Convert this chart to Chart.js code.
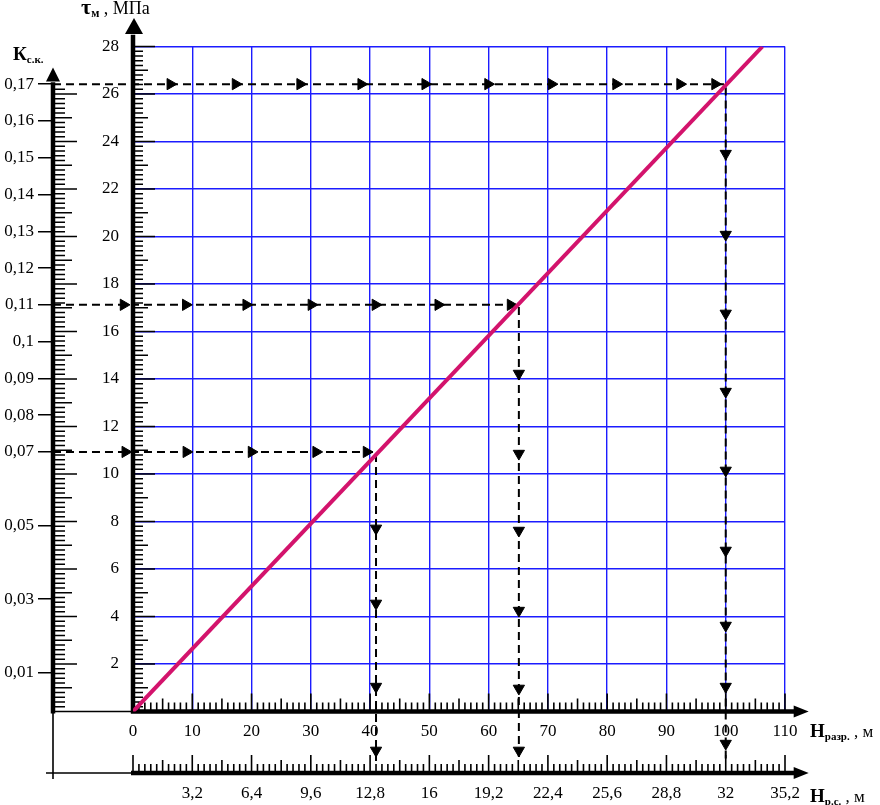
<!DOCTYPE html>
<html lang="ru">
<head>
<meta charset="utf-8">
<title>Номограмма τм – Нразр.</title>
<script src="https://cdn.jsdelivr.net/npm/chart.js@4.4.1/dist/chart.umd.min.js"></script>
<style>
  html, body { margin: 0; padding: 0; background: #fff; }
  #wrap { position: relative; width: 880px; height: 805px; }
</style>
</head>
<body>
<div id="wrap"><canvas id="nomo" width="880" height="805"></canvas></div>
<script>
// Tick values and labels
const hTicks = [0, 10, 20, 30, 40, 50, 60, 70, 80, 90, 100, 110];
const rsTicks = [3.2, 6.4, 9.6, 12.8, 16, 19.2, 22.4, 25.6, 28.8, 32, 35.2];
const rsLabels = ['3,2', '6,4', '9,6', '12,8', '16', '19,2', '22,4', '25,6', '28,8', '32', '35,2'];
const tauTicks = [2, 4, 6, 8, 10, 12, 14, 16, 18, 20, 22, 24, 26, 28];
const kTicks = [0.01, 0.03, 0.05, 0.07, 0.08, 0.09, 0.1, 0.11, 0.12, 0.13, 0.14, 0.15, 0.16, 0.17];
const kLabels = ['0,01', '0,03', '0,05', '0,07', '0,08', '0,09', '0,1', '0,11', '0,12', '0,13', '0,14', '0,15', '0,16', '0,17'];

// τм = f(Нразр.) straight line
const lineH = [0, 106.2];
const lineTau = [0, 28];

// reading paths: Кс.к. -> Нразр. -> Нр.с.
const readK = [0.17, 0.11, 0.07];
const readH = [100, 65.1, 41];
const readStartH = -13.5;
const readEndK = -0.014;

// arrowheads along the paths
const arrowsRightH = [
    [6.3, 17.3, 28.2, 38.5, 49.3, 59.9, 70.6, 81.5, 92.3, 98.2],
    [-1.6, 8.9, 19.1, 30.1, 40.9, 51.5, 63.7],
    [-1.3, 9.0, 20.0, 30.9, 39.4]
];
const arrowsDownTau = [
    [23.49, 20.08, 16.76, 13.47, 10.15, 6.78, 3.62, 1.05, -1.35],
    [14.23, 10.86, 7.62, 4.25, 0.97, -1.64],
    [7.71, 4.55, 1.05, -1.64]
];

const BLUE = '#1c1cff';
const PINK = '#d3136c';
const SERIF = '"Liberation Serif", "Times New Roman", serif';
const tickFont = { family: SERIF, size: 17 };

const datasets = [{
    label: 'τм',
    data: lineH.map((h, i) => ({ x: h, y: lineTau[i] })),
    xAxisID: 'x',
    yAxisID: 'y',
    showLine: true,
    borderColor: PINK,
    borderWidth: 4,
    pointRadius: 0
}];
readK.forEach((k, i) => {
    datasets.push({
        data: [{ x: readStartH, y: k }, { x: readH[i], y: k }, { x: readH[i], y: readEndK }],
        xAxisID: 'x',
        yAxisID: 'k',
        showLine: true,
        borderColor: '#000',
        borderWidth: 2,
        borderDash: [8, 5],
        pointRadius: 0,
        clip: false
    });
    datasets.push({
        data: arrowsRightH[i].map(h => ({ x: h, y: k })),
        xAxisID: 'x',
        yAxisID: 'k',
        pointStyle: 'triangle',
        pointRotation: 90,
        pointRadius: 6.5,
        backgroundColor: '#000',
        borderColor: '#000',
        borderWidth: 1,
        clip: false
    });
    datasets.push({
        data: arrowsDownTau[i].map(t => ({ x: readH[i], y: t })),
        xAxisID: 'x',
        yAxisID: 'y',
        pointStyle: 'triangle',
        pointRotation: 180,
        pointRadius: 6.5,
        backgroundColor: '#000',
        borderColor: '#000',
        borderWidth: 1,
        clip: false
    });
});

function setTicks(list) {
    return scale => { scale.ticks = list.map(v => ({ value: v })); };
}

function arrowHead(ctx, tipX, tipY, dir, len, half) {
    ctx.beginPath();
    if (dir === 'up') {
        ctx.moveTo(tipX, tipY);
        ctx.lineTo(tipX - half, tipY + len);
        ctx.lineTo(tipX + half, tipY + len);
    } else {
        ctx.moveTo(tipX, tipY);
        ctx.lineTo(tipX - len, tipY - half);
        ctx.lineTo(tipX - len, tipY + half);
    }
    ctx.closePath();
    ctx.fill();
}

function richText(ctx, parts, x, y) {
    parts.forEach(p => {
        ctx.font = p.font;
        ctx.fillText(p.text, x, y + (p.dy || 0));
        x += ctx.measureText(p.text).width;
    });
}

// rulers, axis lines, arrows and axis titles
const nomogramPlugin = {
    id: 'nomogram',
    beforeDatasetsDraw(chart) {
        const { ctx, scales } = chart;
        const { x, x2, y, k } = scales;
        const ax = x.getPixelForValue(0);
        const base = y.getPixelForValue(0);
        const kx = k.right;
        const y2 = x2.top + 0.5;
        ctx.save();
        ctx.strokeStyle = '#000';
        ctx.fillStyle = '#000';
        ctx.lineWidth = 1.6;
        ctx.beginPath();
        // τ ruler
        for (let i = 1; i <= 140; i++) {
            const py = y.getPixelForValue(i / 5);
            const len = i % 10 === 0 ? 22 : (i % 5 === 0 ? 15 : 10);
            ctx.moveTo(ax, py);
            ctx.lineTo(ax + len, py);
        }
        // ruler along Кс.к. axis
        for (let i = 1; i <= 131; i++) {
            const py = y.getPixelForValue(i / 5);
            const len = i % 10 === 0 ? 24 : (i % 5 === 0 ? 19 : 12);
            ctx.moveTo(kx, py);
            ctx.lineTo(kx + len, py);
        }
        // Нразр. and Нр.с. rulers
        for (let h = 0; h <= 110; h++) {
            const len = h % 10 === 0 ? 18 : (h % 5 === 0 ? 13 : 9);
            const px = x.getPixelForValue(h);
            ctx.moveTo(px, base);
            ctx.lineTo(px, base - len);
            const px2 = x2.getPixelForValue(h * 0.32);
            ctx.moveTo(px2, y2);
            ctx.lineTo(px2, y2 - len);
        }
        // thin connecting lines
        ctx.moveTo(kx, base);
        ctx.lineTo(ax, base);
        ctx.moveTo(kx - 7, y2);
        ctx.lineTo(ax, y2);
        ctx.moveTo(kx, base);
        ctx.lineTo(kx, 779);
        ctx.stroke();

        // thick axes
        ctx.lineWidth = 4.5;
        ctx.beginPath();
        ctx.moveTo(ax, base + 2);
        ctx.lineTo(ax, y.getPixelForValue(28.5));
        ctx.moveTo(kx, base + 2);
        ctx.lineTo(kx, k.getPixelForValue(0.1705));
        ctx.moveTo(ax - 2, base);
        ctx.lineTo(x.getPixelForValue(111.6), base);
        ctx.moveTo(ax - 2, y2);
        ctx.lineTo(x.getPixelForValue(111.6), y2);
        ctx.stroke();
        arrowHead(ctx, ax + 1, y.getPixelForValue(29.2), 'up', 16, 9);
        arrowHead(ctx, kx, k.getPixelForValue(0.1745), 'up', 14, 7);
        arrowHead(ctx, x.getPixelForValue(114), base, 'right', 15, 6);
        arrowHead(ctx, x.getPixelForValue(114), y2, 'right', 15, 6);
        ctx.restore();

        // let arrowheads outside the grid box be drawn too
        chart.$gridArea = chart.chartArea;
        chart.chartArea = { left: 0, top: 0, right: chart.width, bottom: chart.height, width: chart.width, height: chart.height };
    },
    afterDatasetsDraw(chart) {
        if (chart.$gridArea) {
            chart.chartArea = chart.$gridArea;
        }
    },
    afterDraw(chart) {
        const { ctx } = chart;
        ctx.save();
        ctx.fillStyle = '#000';
        ctx.textBaseline = 'alphabetic';
        ctx.textAlign = 'left';
        richText(ctx, [
            { text: 'τ', font: 'bold 22px ' + SERIF },
            { text: 'м', font: 'bold 12px ' + SERIF, dy: 3 },
            { text: ' , МПа', font: '18px ' + SERIF }
        ], 81, 14);
        richText(ctx, [
            { text: 'К', font: 'bold 19px ' + SERIF },
            { text: 'с.к.', font: 'bold 11px ' + SERIF, dy: 3 }
        ], 13, 60);
        richText(ctx, [
            { text: 'Н', font: 'bold 19px ' + SERIF },
            { text: 'разр.', font: 'bold 11px ' + SERIF, dy: 3 },
            { text: ' , м', font: '17px ' + SERIF }
        ], 810, 737);
        richText(ctx, [
            { text: 'Н', font: 'bold 19px ' + SERIF },
            { text: 'р.с.', font: 'bold 11px ' + SERIF, dy: 3 },
            { text: ' , м', font: '17px ' + SERIF }
        ], 810, 802);
        ctx.restore();
    }
};

new Chart(document.getElementById('nomo'), {
    type: 'scatter',
    data: { datasets },
    options: {
        responsive: false,
        animation: false,
        devicePixelRatio: 1,
        events: [],
        layout: { padding: { left: 0, right: 95, top: 46.5, bottom: 0 } },
        plugins: { legend: { display: false }, tooltip: { enabled: false } },
        scales: {
            x: {
                type: 'linear', position: 'bottom', min: 0, max: 110,
                afterBuildTicks: setTicks(hTicks),
                afterFit: s => { s.height = 61; },
                ticks: { color: '#000', font: tickFont, padding: 10, autoSkip: false, maxRotation: 0, callback: v => String(v) },
                grid: { color: c => (c.tick && c.tick.value === 0 ? 'rgba(0,0,0,0)' : BLUE), lineWidth: 1.4, drawTicks: false },
                border: { display: false }
            },
            x2: {
                type: 'linear', position: 'bottom', weight: 1, min: 0, max: 35.2,
                afterBuildTicks: setTicks(rsTicks),
                afterFit: s => { s.height = 32.5; },
                ticks: { color: '#000', font: tickFont, padding: 11, autoSkip: false, maxRotation: 0, callback: (v, i) => rsLabels[i] },
                grid: { drawOnChartArea: false, drawTicks: false },
                border: { display: false }
            },
            y: {
                type: 'linear', position: 'left', min: 0, max: 28,
                afterBuildTicks: setTicks(tauTicks),
                afterFit: s => { s.width = 80; },
                ticks: { color: '#000', font: tickFont, padding: 14, autoSkip: false, callback: v => String(v) },
                grid: { color: BLUE, lineWidth: 1.4, drawTicks: false },
                border: { display: false }
            },
            k: {
                type: 'linear', axis: 'y', position: 'left', weight: 1, min: -0.00057, max: 0.18023,
                afterBuildTicks: setTicks(kTicks),
                afterFit: s => { s.width = 53; },
                ticks: { color: '#000', font: tickFont, padding: 4, autoSkip: false, callback: (v, i) => kLabels[i] },
                grid: { drawOnChartArea: false, drawTicks: true, tickLength: 15, color: '#000', lineWidth: 1.5 },
                border: { display: false }
            }
        }
    },
    plugins: [nomogramPlugin]
});
</script>
</body>
</html>
